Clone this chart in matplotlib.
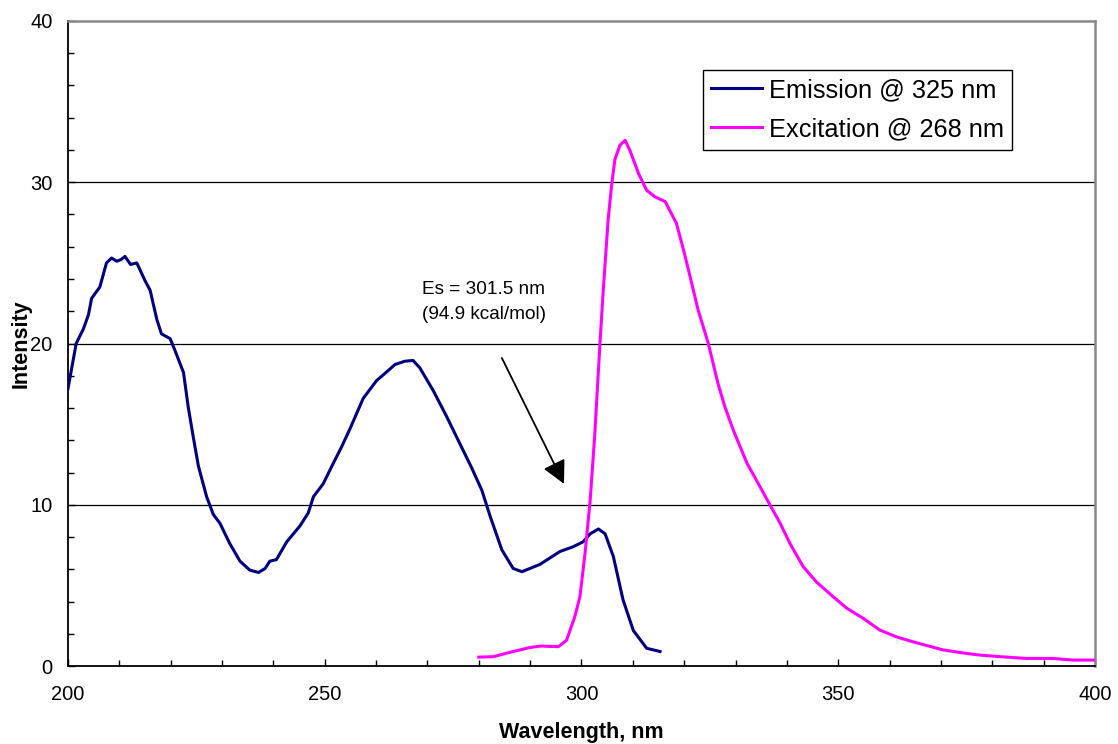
import numpy as np
import matplotlib
matplotlib.use('Agg')
import matplotlib.pyplot as plt
from matplotlib.ticker import MultipleLocator

nomeFonte = 'Liberation Sans'

# Emission spectrum (navy)
em_wl = [200.0, 201.6, 203.0, 204.0, 204.6, 206.2, 207.5, 208.5, 209.5, 210.3,
         211.1, 212.2, 213.4, 215.0, 216.0, 217.3, 218.2, 219.9, 220.8, 222.5,
         223.4, 224.4, 225.4, 227.0, 228.3, 229.6, 231.5, 233.5, 235.4, 237.1,
         238.4, 239.3, 240.6, 242.6, 245.2, 246.8, 247.8, 249.7, 251.4, 253.3,
         254.9, 257.5, 260.1, 262.1, 263.7, 265.6, 267.2, 268.5, 271.1, 273.7,
         276.3, 278.6, 280.6, 282.2, 284.5, 286.7, 288.4, 291.9, 295.8, 298.4,
         300.3, 301.7, 303.3, 304.6, 306.2, 308.1, 310.1, 312.7, 315.3]
em_int = [17.2, 20.0, 20.9, 21.8, 22.8, 23.5, 25.0, 25.3, 25.1, 25.2,
          25.4, 24.9, 25.0, 23.9, 23.3, 21.5, 20.6, 20.3, 19.6, 18.2,
          16.1, 14.2, 12.4, 10.5, 9.4, 8.85, 7.6, 6.5, 5.95, 5.8,
          6.05, 6.5, 6.6, 7.7, 8.7, 9.5, 10.5, 11.3, 12.4, 13.6,
          14.7, 16.6, 17.7, 18.25, 18.7, 18.9, 18.95, 18.5, 17.1, 15.5,
          13.8, 12.3, 10.9, 9.3, 7.2, 6.05, 5.85, 6.3, 7.1, 7.4,
          7.7, 8.2, 8.5, 8.2, 6.8, 4.1, 2.2, 1.1, 0.9]

# Excitation spectrum (magenta)
ex_wl = [280.0, 282.8, 286.7, 290.0, 292.0, 295.5, 297.1, 298.7, 299.7, 300.7,
         301.7, 302.6, 303.6, 304.2, 305.2, 305.9, 306.5, 307.5, 308.5, 309.4,
         311.1, 312.7, 314.3, 316.3, 318.5, 320.2, 322.7, 324.7, 326.6, 327.9,
         329.6, 332.2, 334.8, 336.7, 338.7, 340.6, 343.2, 345.8, 349.0, 351.6,
         354.9, 358.1, 361.4, 364.6, 366.9, 370.4, 375.0, 377.6, 381.5, 386.7,
         391.8, 395.7, 400.0]
ex_int = [0.55, 0.58, 0.9, 1.15, 1.24, 1.2, 1.6, 3.06, 4.3, 7.0,
          10.3, 14.4, 20.0, 23.1, 27.7, 29.9, 31.4, 32.3, 32.6, 32.0,
          30.55, 29.5, 29.1, 28.8, 27.45, 25.4, 22.1, 20.0, 17.5, 16.1,
          14.6, 12.6, 11.1, 10.0, 8.85, 7.6, 6.15, 5.2, 4.3, 3.6,
          2.95, 2.23, 1.8, 1.5, 1.3, 1.0, 0.78, 0.68, 0.58, 0.47,
          0.47, 0.37, 0.37]

labels = ['Emission @ 325 nm', 'Excitation @ 268 nm']
es_text = 'Es = 301.5 nm\n(94.9 kcal/mol)'
seta_inicio = (284.5, 19.1)
seta_fim = (296.6, 11.3)

plt.rcParams['font.family'] = nomeFonte

fig = plt.figure(figsize=(11.18, 7.44), dpi=100)
ax = fig.add_axes([0.0608, 0.1048, 0.9186, 0.867])

ax.plot(em_wl, em_int, color='#000080', lw=2.2, label=labels[0], zorder=3)
ax.plot(ex_wl, ex_int, color='#FF00FF', lw=2.2, label=labels[1], zorder=3)

ax.set_xlim(200, 400)
ax.set_ylim(0, 40)
ax.xaxis.set_major_locator(MultipleLocator(50))
ax.xaxis.set_minor_locator(MultipleLocator(10))
ax.yaxis.set_major_locator(MultipleLocator(10))
ax.yaxis.set_minor_locator(MultipleLocator(2))

# gridlines only at 10, 20, 30
for g in (10, 20, 30):
    ax.axhline(g, color='black', lw=0.9, zorder=1)

ax.spines['left'].set_color('black')
ax.spines['bottom'].set_color('black')
ax.spines['left'].set_linewidth(1.3)
ax.spines['bottom'].set_linewidth(1.3)
ax.spines['top'].set_color('#888888')
ax.spines['right'].set_color('#888888')
ax.spines['top'].set_linewidth(1.8)
ax.spines['right'].set_linewidth(1.8)

ax.tick_params(axis='both', which='both', direction='in', color='black')
ax.tick_params(axis='x', which='major', length=5, width=1, pad=14, labelsize=14.5)
ax.tick_params(axis='x', which='minor', length=4, width=1)
ax.tick_params(axis='y', which='major', length=5, width=1, pad=11, labelsize=14.5)
ax.tick_params(axis='y', which='minor', length=4, width=1)

ax.set_xlabel('Wavelength, nm', fontsize=15.5, fontweight='bold')
ax.set_ylabel('Intensity', fontsize=15.5, fontweight='bold')
ax.xaxis.set_label_coords(0.5, -0.087)
ax.yaxis.set_label_coords(-0.035, 0.5)

ax.annotate('', xy=seta_fim, xytext=seta_inicio,
            arrowprops=dict(arrowstyle='-|>,head_length=0.7,head_width=0.36',
                            color='black', lw=1.3, mutation_scale=20,
                            shrinkA=0, shrinkB=0))
ax.text(268.9, 22.6, es_text, fontsize=13.7, va='center', ha='left',
        linespacing=1.62)

leg = ax.legend(loc='upper left', bbox_to_anchor=(0.618, 0.924), fontsize=18.3,
                frameon=True, fancybox=False, shadow=False, framealpha=1,
                borderpad=0.32, handlelength=2.0, handletextpad=0.3,
                labelspacing=0.6, borderaxespad=0)
leg.get_frame().set_edgecolor('black')
leg.get_frame().set_linewidth(1.0)

plt.savefig('out.png', dpi=100)
